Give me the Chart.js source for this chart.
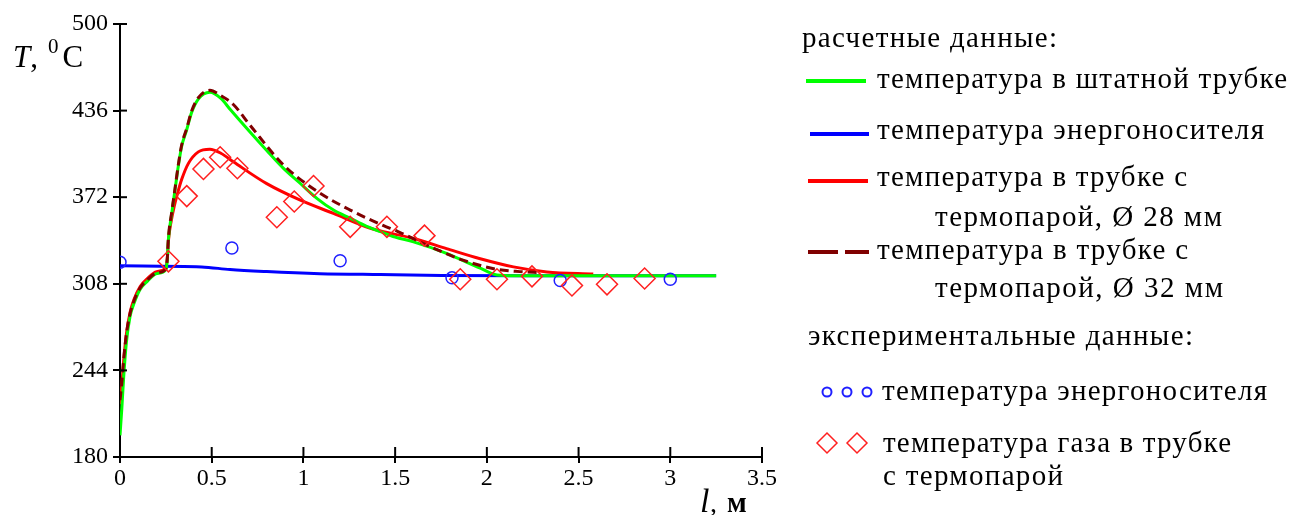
<!DOCTYPE html>
<html><head><meta charset="utf-8">
<script src="https://cdn.jsdelivr.net/npm/chart.js@4.4.1/dist/chart.umd.min.js"></script>
<style>
html,body{margin:0;padding:0;background:#fff;overflow:hidden}
#wrap{position:relative;width:1293px;height:515px}
#c{position:absolute;left:0;top:0}
#ov{position:absolute;left:0;top:0;pointer-events:none}
</style></head><body>
<div id="wrap">
<canvas id="c" width="1293" height="515"></canvas>
<svg id="ov" width="1293" height="515" xmlns="http://www.w3.org/2000/svg">
  <g font-family="Liberation Serif" fill="#000">
    <text x="13" y="67" font-size="31"><tspan font-style="italic">T</tspan>,<tspan font-size="21" dx="10" dy="-14">0</tspan><tspan dx="4" dy="14">C</tspan></text>
    <text x="700" y="512" font-size="34" font-style="italic">l</text>
    <text x="710" y="512" font-size="28">,</text>
    <text x="727" y="512" font-size="29" font-weight="bold">м</text>
  </g>
  <g font-family="Liberation Serif" font-size="29" fill="#000">
    <text x="802" y="47" textLength="255">расчетные данные:</text>
    <line x1="806" y1="81" x2="866" y2="81" stroke="#00ff00" stroke-width="4"/>
    <text x="877" y="88" textLength="410">температура в штатной трубке</text>
    <line x1="810" y1="134" x2="869" y2="134" stroke="#0000ff" stroke-width="4"/>
    <text x="877" y="139" textLength="387">температура энергоносителя</text>
    <line x1="808" y1="181" x2="868" y2="181" stroke="#ff0000" stroke-width="4"/>
    <text x="877" y="186" textLength="310">температура в трубке с</text>
    <text x="935" y="226" textLength="287">термопарой, Ø 28 мм</text>
    <line x1="808" y1="252" x2="869" y2="252" stroke="#800000" stroke-width="4" stroke-dasharray="30,7"/>
    <text x="877" y="259" textLength="311">температура в трубке с</text>
    <text x="935" y="297" textLength="288">термопарой, Ø 32 мм</text>
    <text x="808" y="345" textLength="385">экспериментальные данные:</text>
    <circle cx="827" cy="392" r="4.5" fill="none" stroke="#2020ff" stroke-width="2"/>
    <circle cx="847" cy="392" r="4.5" fill="none" stroke="#2020ff" stroke-width="2"/>
    <circle cx="867" cy="392" r="4.5" fill="none" stroke="#2020ff" stroke-width="2"/>
    <text x="882" y="400" textLength="385">температура энергоносителя</text>
    <path d="M817,443 L827,433 L837,443 L827,453 Z M847,443 L857,433 L867,443 L857,453 Z" fill="none" stroke="#ff2020" stroke-width="1.5"/>
    <text x="883" y="452" textLength="348">температура газа в трубке</text>
    <text x="883" y="485" textLength="180">с термопарой</text>
  </g>
</svg>
</div>
<script>
// axis ranges / ticks
const xMin = 0, xMax = 3.5, xStep = 0.5;
const yMin = 180, yMax = 500, yStep = 64;

// calculated: temperature in standard tube (green)
const lGreen = [0,0.01,0.02,0.035,0.055,0.075,0.11,0.15,0.2,0.25,0.258,0.264,0.282,0.3,0.318,0.336,0.364,0.39,0.427,0.49,0.55,0.6,0.71,0.8,0.89,0.98,1.075,1.164,1.255,1.345,1.42,1.5,1.6,1.78,1.964,2.055,2.15,3.25];
const tGreen = [196,216,239,265,284,293,304,310,315.5,318.5,326,341,360,377.5,395,409.5,422,434.5,444.5,449.5,445,437,420,406.5,393.5,382.5,371,362.5,356.5,350.5,346.5,342.5,339,330.5,319.5,314.5,314,314];

// calculated: energy carrier temperature (blue)
const lBlue = [0,0.445,0.6,0.8,1.09,1.42,1.755,2.2,3.25];
const tBlue = [321.3,320.5,318.5,317,315.5,314.8,314.2,314,314];

// calculated: tube with thermocouple, 28 mm (red)
const lRed = [0,0.01,0.02,0.035,0.055,0.075,0.11,0.15,0.2,0.25,0.258,0.264,0.28,0.295,0.31,0.336,0.373,0.427,0.49,0.55,0.62,0.8,0.98,1.164,1.345,1.42,1.6,1.78,1.964,2.145,2.327,2.58];
const tRed = [219,233,251,271,287,296,306,312,317,320,327,340,355,365,373,385,397,405.5,407.5,404.5,398,382,370,360,350,347,341.5,334,326.5,320.5,316.8,315.2];

// calculated: tube with thermocouple, 32 mm (dark red dashed)
const lDark = [0,0.01,0.02,0.035,0.055,0.075,0.11,0.15,0.2,0.25,0.258,0.264,0.282,0.3,0.318,0.336,0.364,0.39,0.427,0.49,0.55,0.618,0.71,0.89,1.073,1.255,1.437,1.51,1.69,1.87,2.055,2.18,2.29];
const tDark = [222,235,252,271,286,295,305,311,316,319,327,342,361,378.5,396,410.5,423,435.5,445.5,451,447,440.5,425,396,376.5,362.5,351,347,335.5,325.5,318.7,317,316.3];

// experimental: energy carrier (blue circles)
const lCirc = [0,0.61,1.2,1.81,2.4,3.0];
const tCirc = [324,334.5,325,312.4,310.4,311.4];

// experimental: gas in tube with thermocouple (red diamonds)
const lDiam = [0.264,0.364,0.455,0.546,0.64,0.855,0.95,1.055,1.255,1.455,1.66,1.855,2.055,2.246,2.464,2.655,2.86];
const tDiam = [324.6,372.8,392.9,401.5,393.4,357.2,368.8,380.3,350.1,350.1,343.6,311.4,311.4,313.5,306.8,307.6,311.9];

const pts = (xs, ys) => xs.map((x, i) => ({x: x, y: ys[i]}));

const innerTicks = {
  id: 'innerTicks',
  afterDatasetsDraw(chart) {
    const {ctx, scales: {x, y}, chartArea: a} = chart;
    ctx.save();
    ctx.strokeStyle = '#000';
    ctx.lineWidth = 2;
    x.ticks.forEach(t => {
      const px = x.getPixelForValue(t.value);
      ctx.beginPath(); ctx.moveTo(px, a.bottom); ctx.lineTo(px, a.bottom - 10); ctx.stroke();
    });
    y.ticks.forEach(t => {
      const py = y.getPixelForValue(t.value);
      ctx.beginPath(); ctx.moveTo(a.left, py); ctx.lineTo(a.left + 7, py); ctx.stroke();
    });
    ctx.restore();
  }
};

const lineDs = (label, xs, ys, color, order, dash) => ({
  label, data: pts(xs, ys), borderColor: color, backgroundColor: color,
  borderWidth: 3, pointRadius: 0, fill: false, cubicInterpolationMode: 'monotone',
  borderDash: dash || [], order
});

const tickFont = {family: 'Liberation Serif', size: 24};

new Chart(document.getElementById('c'), {
  type: 'line',
  data: {
    datasets: [
      lineDs('температура в штатной трубке', lGreen, tGreen, '#00ff00', 3),
      lineDs('температура энергоносителя', lBlue, tBlue, '#0000ff', 5),
      lineDs('температура в трубке с термопарой, Ø 28 мм', lRed, tRed, '#ff0000', 4),
      lineDs('температура в трубке с термопарой, Ø 32 мм', lDark, tDark, '#800000', 2, [9, 5]),
      {label: 'температура энергоносителя (эксп.)', data: pts(lCirc, tCirc), showLine: false,
       pointStyle: 'circle', pointRadius: 6, pointBorderWidth: 1.5, pointBorderColor: '#2020ff',
       pointBackgroundColor: 'rgba(0,0,0,0)', borderColor: '#2020ff', order: 1},
      {label: 'температура газа в трубке с термопарой', data: pts(lDiam, tDiam), showLine: false,
       pointStyle: 'rectRot', pointRadius: 10.5, pointBorderWidth: 1.5, pointBorderColor: '#ff2020',
       pointBackgroundColor: 'rgba(0,0,0,0)', borderColor: '#ff2020', order: 0}
    ]
  },
  options: {
    responsive: false, animation: false, events: [],
    layout: {padding: {top: 24, right: 531, bottom: 0, left: 0}},
    plugins: {legend: {display: false}, tooltip: {enabled: false}, title: {display: false}},
    scales: {
      x: {
        type: 'linear', min: xMin, max: xMax,
        ticks: {stepSize: xStep, color: '#000', font: tickFont, padding: 1, maxRotation: 0, autoSkip: false,
                callback: v => String(Math.round(v * 10) / 10)},
        grid: {display: true, drawOnChartArea: false, drawTicks: true, tickLength: 6, color: '#000', lineWidth: 2},
        border: {display: true, color: '#000', width: 2},
        afterFit(s) { s.height = 58; }
      },
      y: {
        type: 'linear', min: yMin, max: yMax,
        ticks: {stepSize: yStep, color: '#000', font: tickFont, padding: 5, autoSkip: false,
                callback: v => String(v)},
        grid: {display: true, drawOnChartArea: false, drawTicks: true, tickLength: 7, color: '#000', lineWidth: 2},
        border: {display: true, color: '#000', width: 2},
        afterFit(s) { s.width = 120; }
      }
    }
  },
  plugins: [innerTicks]
});
</script>
</body></html>
